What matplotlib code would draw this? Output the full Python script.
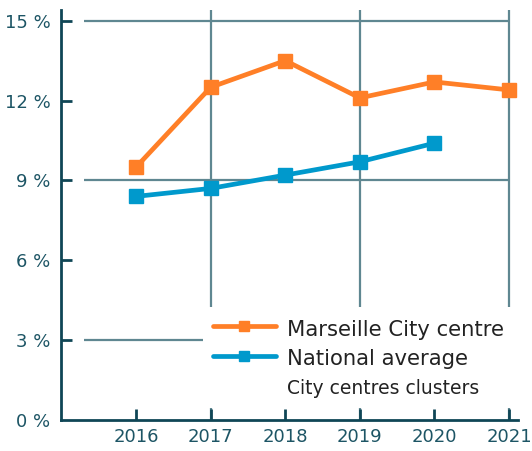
import matplotlib
matplotlib.use("Agg")
import matplotlib.pyplot as plt
from matplotlib.lines import Line2D

years = [2016, 2017, 2018, 2019, 2020, 2021]
marseille = [9.5, 12.5, 13.5, 12.1, 12.7, 12.4]
national_years = [2016, 2017, 2018, 2019, 2020]
national = [8.4, 8.7, 9.2, 9.7, 10.4]
y_ticks = [0, 3, 6, 9, 12, 15]
grid_y = [3, 9, 15]
grid_x = [2017, 2019, 2021]

ORANGE = "#FF7F27"
BLUE = "#0099CC"
AXIS = "#0F4656"
GRID = "#5F8791"
LABEL = "#1D5565"

plt.rcParams["font.family"] = ["DejaVu Sans"]

fig = plt.figure(figsize=(5.32, 4.51), dpi=100)
ax = fig.add_axes([0.1156, 0.0687, 0.858, 0.909])

ax.hlines(grid_y, 2015.3, 2021, color=GRID, lw=1.6, zorder=1)
ax.vlines(grid_x, 0, 15.4, color=GRID, lw=1.6, zorder=1)

ax.plot(years, marseille, color=ORANGE, lw=3.4, marker="s", ms=10,
        solid_capstyle="round", zorder=3, label="Marseille City centre")
ax.plot(national_years, national, color=BLUE, lw=3.4, marker="s", ms=10,
        solid_capstyle="round", zorder=3, label="National average")

ax.set_xlim(2015, 2021.12)
ax.set_ylim(0, 15.4)
ax.set_xticks(years)
ax.set_yticks(y_ticks)
ax.set_yticklabels([f"{v} %" for v in y_ticks])

for s in ["top", "right"]:
    ax.spines[s].set_visible(False)
for s in ["left", "bottom"]:
    ax.spines[s].set_color(AXIS)
    ax.spines[s].set_linewidth(2)

ax.tick_params(axis="both", direction="in", length=8, width=2, color=AXIS,
               labelcolor=LABEL, labelsize=13)
ax.tick_params(axis="y", pad=8)
ax.tick_params(axis="x", pad=6)
ax.yaxis.get_major_ticks()[0].tick1line.set_visible(False)

handles, labels = ax.get_legend_handles_labels()
handles.append(Line2D([], [], color="none"))
labels.append("City centres clusters")
leg = ax.legend(handles, labels, loc="lower left",
                bbox_to_anchor=(0.31, 0.029, 0.68, 0.25), mode="expand",
                frameon=True, facecolor="white", edgecolor="none", framealpha=1,
                fontsize=15.2, handlelength=3.0, handletextpad=0.55,
                handleheight=1.3, labelspacing=0.3, borderpad=0.45,
                borderaxespad=0, markerscale=0.7, fancybox=False)
leg.get_texts()[2].set_fontsize(13.5)
for t in leg.get_texts():
    t.set_color("#222222")
leg.set_zorder(5)

fig.savefig("out.png", dpi=100)
